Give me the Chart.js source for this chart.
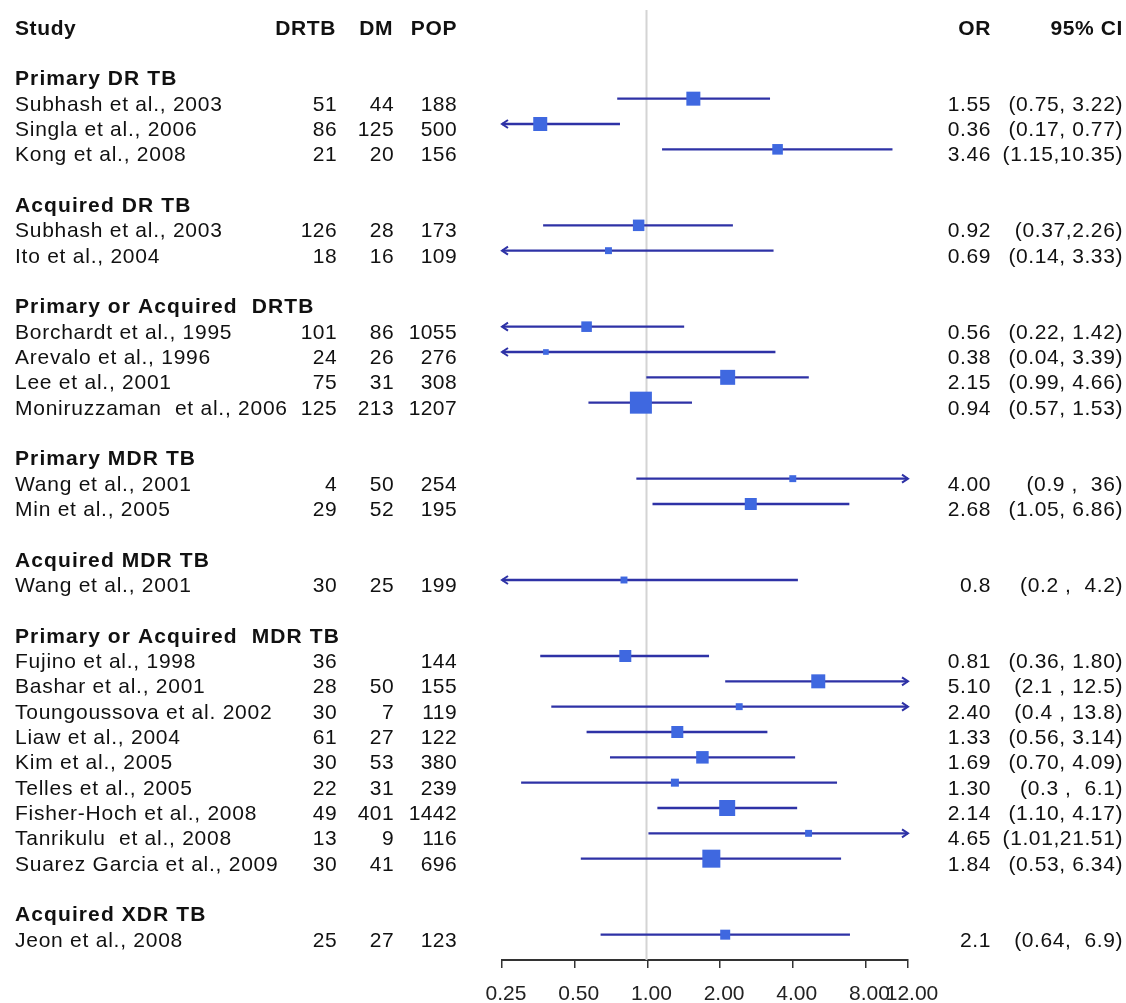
<!DOCTYPE html>
<html>
<head>
<meta charset="utf-8">
<title>Diabetes and drug-resistant TB – forest plot</title>
<script src="https://cdn.jsdelivr.net/npm/chart.js@4.4.1/dist/chart.umd.min.js"></script>
<style>
  html, body { margin: 0; padding: 0; background: #ffffff; }
  #wrap { width: 1126px; height: 1003px; position: relative; }
</style>
</head>
<body>
<div id="wrap"><canvas id="forest"></canvas></div>
<script>
// ---- data ----
const columnHeads = ['Study', 'DRTB', 'DM', 'POP', 'OR', '95% CI'];

const groups = [
  'Primary DR TB',
  'Acquired DR TB',
  'Primary or Acquired  DRTB',
  'Primary MDR TB',
  'Acquired MDR TB',
  'Primary or Acquired  MDR TB',
  'Acquired XDR TB'
];

const groupOf = [0, 0, 0, 1, 1, 2, 2, 2, 2, 3, 3, 4, 5, 5, 5, 5, 5, 5, 5, 5, 5, 6];

const studies = [
  'Subhash et al., 2003', 'Singla et al., 2006', 'Kong et al., 2008',
  'Subhash et al., 2003', 'Ito et al., 2004',
  'Borchardt et al., 1995', 'Arevalo et al., 1996', 'Lee et al., 2001', 'Moniruzzaman  et al., 2006',
  'Wang et al., 2001', 'Min et al., 2005',
  'Wang et al., 2001',
  'Fujino et al., 1998', 'Bashar et al., 2001', 'Toungoussova et al. 2002', 'Liaw et al., 2004',
  'Kim et al., 2005', 'Telles et al., 2005', 'Fisher-Hoch et al., 2008', 'Tanrikulu  et al., 2008',
  'Suarez Garcia et al., 2009',
  'Jeon et al., 2008'
];

const drtb = [51, 86, 21, 126, 18, 101, 24, 75, 125, 4, 29, 30, 36, 28, 30, 61, 30, 22, 49, 13, 30, 25];
const dm   = [44, 125, 20, 28, 16, 86, 26, 31, 213, 50, 52, 25, null, 50, 7, 27, 53, 31, 401, 9, 41, 27];
const pop  = [188, 500, 156, 173, 109, 1055, 276, 308, 1207, 254, 195, 199, 144, 155, 119, 122, 380, 239, 1442, 116, 696, 123];

const orValue = [1.55, 0.36, 3.46, 0.92, 0.69, 0.56, 0.38, 2.15, 0.94, 4.00, 2.68, 0.8, 0.81, 5.10, 2.40, 1.33, 1.69, 1.30, 2.14, 4.65, 1.84, 2.1];
const ciLow   = [0.75, 0.17, 1.15, 0.37, 0.14, 0.22, 0.04, 0.99, 0.57, 0.9, 1.05, 0.2, 0.36, 2.1, 0.4, 0.56, 0.70, 0.3, 1.10, 1.01, 0.53, 0.64];
const ciHigh  = [3.22, 0.77, 10.35, 2.26, 3.33, 1.42, 3.39, 4.66, 1.53, 36, 6.86, 4.2, 1.80, 12.5, 13.8, 3.14, 4.09, 6.1, 4.17, 21.51, 6.34, 6.9];

const orText = ['1.55', '0.36', '3.46', '0.92', '0.69', '0.56', '0.38', '2.15', '0.94', '4.00', '2.68', '0.8',
                '0.81', '5.10', '2.40', '1.33', '1.69', '1.30', '2.14', '4.65', '1.84', '2.1'];
const ciText = ['(0.75, 3.22)', '(0.17, 0.77)', '(1.15,10.35)', '(0.37,2.26)', '(0.14, 3.33)',
                '(0.22, 1.42)', '(0.04, 3.39)', '(0.99, 4.66)', '(0.57, 1.53)',
                '(0.9 ,  36)', '(1.05, 6.86)', '(0.2 ,  4.2)',
                '(0.36, 1.80)', '(2.1 , 12.5)', '(0.4 , 13.8)', '(0.56, 3.14)', '(0.70, 4.09)',
                '(0.3 ,  6.1)', '(1.10, 4.17)', '(1.01,21.51)', '(0.53, 6.34)', '(0.64,  6.9)'];

// relative study weights (box area)
const weights = [49, 49, 28, 33, 12, 28, 8, 56, 121, 12, 36, 12, 36, 49, 12, 36, 39, 16, 64, 12, 81, 25];

const axisTicks = [0.25, 0.5, 1, 2, 4, 8, 12];

// ---- row layout: header, then blank + heading + studies for each group ----
const headingRows = [];
const studyRows = [];
(function () {
  let row = 0;
  let prev = -1;
  groupOf.forEach((g) => {
    if (g !== prev) {
      row += 2;            // blank line, then group heading
      headingRows.push(row);
      prev = g;
    }
    row += 1;
    studyRows.push(row);
  });
})();
const lastRow = studyRows[studyRows.length - 1];

const FONT = '"Liberation Sans", Arial, sans-serif';
const BOX_COLOR = '#3f68e0';
const LINE_COLOR = '#2e32a6';

const forestPlugin = {
  id: 'forestLayer',
  beforeDatasetsDraw(chart) {
    const { ctx, chartArea, scales: { x, y } } = chart;
    ctx.save();
    // line of no effect at OR = 1
    const x1 = Math.round(x.getPixelForValue(1)) - 0.5;
    ctx.strokeStyle = '#d4d4d4';
    ctx.lineWidth = 2;
    ctx.beginPath();
    ctx.moveTo(x1, chartArea.top);
    ctx.lineTo(x1, chartArea.bottom);
    ctx.stroke();

    // confidence intervals, with arrows where they leave the axis range
    ctx.strokeStyle = LINE_COLOR;
    ctx.lineCap = 'butt';
    studyRows.forEach((r, i) => {
      const yy = y.getPixelForValue(r);
      const lo = Math.max(ciLow[i], x.min);
      const hi = Math.min(ciHigh[i], x.max);
      const xa = x.getPixelForValue(lo);
      const xb = x.getPixelForValue(hi);
      ctx.lineWidth = 2.4;
      ctx.beginPath();
      ctx.moveTo(xa, yy);
      ctx.lineTo(xb, yy);
      ctx.stroke();
      ctx.lineWidth = 2;
      if (ciLow[i] < x.min) {
        ctx.beginPath();
        ctx.moveTo(xa + 6, yy - 4);
        ctx.lineTo(xa, yy);
        ctx.lineTo(xa + 6, yy + 4);
        ctx.stroke();
      }
      if (ciHigh[i] > x.max) {
        ctx.beginPath();
        ctx.moveTo(xb - 6, yy - 4);
        ctx.lineTo(xb, yy);
        ctx.lineTo(xb - 6, yy + 4);
        ctx.stroke();
      }
    });
    ctx.restore();
  },
  afterDraw(chart) {
    const { ctx, scales: { y } } = chart;
    const textY = (r) => y.getPixelForValue(r) + 12;
    ctx.save();
    ctx.fillStyle = '#111';
    ctx.textBaseline = 'alphabetic';

    const put = (txt, xPos, row, align, bold, spacing) => {
      if (txt === null || txt === undefined || txt === '') return;
      ctx.font = (bold ? 'bold ' : '') + '21px ' + FONT;
      ctx.letterSpacing = spacing + 'px';
      ctx.textAlign = align;
      ctx.fillText(String(txt), xPos, textY(row));
    };

    // column headings
    put(columnHeads[0], 15, 0, 'left', true, 0.6);
    put(columnHeads[1], 336, 0, 'right', true, 0.6);
    put(columnHeads[2], 393, 0, 'right', true, 0.6);
    put(columnHeads[3], 457, 0, 'right', true, 0.6);
    put(columnHeads[4], 991, 0, 'right', true, 0.6);
    put(columnHeads[5], 1123, 0, 'right', true, 0.6);

    groups.forEach((g, k) => put(g, 15, headingRows[k], 'left', true, 1.1));

    studyRows.forEach((r, i) => {
      put(studies[i], 15, r, 'left', false, 0.75);
      put(drtb[i], 337, r, 'right', false, 0.4);
      put(dm[i], 394, r, 'right', false, 0.4);
      put(pop[i], 457, r, 'right', false, 0.4);
      put(orText[i], 991, r, 'right', false, 0.6);
      put(ciText[i], 1123, r, 'right', false, 0.6);
    });
    ctx.restore();
  }
};

new Chart(document.getElementById('forest'), {
  type: 'scatter',
  data: {
    datasets: [{
      label: 'OR',
      data: studyRows.map((r, i) => ({ x: orValue[i], y: r })),
      pointStyle: 'rect',
      pointRadius: weights.map((w) => Math.sqrt(w) * Math.SQRT2),
      pointHoverRadius: weights.map((w) => Math.sqrt(w) * Math.SQRT2),
      backgroundColor: BOX_COLOR,
      borderWidth: 0
    }]
  },
  options: {
    responsive: true,
    maintainAspectRatio: false,
    animation: false,
    devicePixelRatio: 1,
    layout: { autoPadding: false, padding: { left: 502, right: 218, top: 10, bottom: 0 } },
    plugins: { legend: { display: false }, tooltip: { enabled: false } },
    scales: {
      x: {
        type: 'logarithmic',
        position: 'bottom',
        min: 0.25,
        max: 12,
        afterBuildTicks: (s) => { s.ticks = axisTicks.map((v) => ({ value: v })); },
        afterFit: (s) => { s.height = 43; s.paddingLeft = 0; s.paddingRight = 0; },
        ticks: {
          autoSkip: false,
          maxRotation: 0,
          padding: 14,
          labelOffset: 4,
          color: '#222',
          font: { family: FONT, size: 21 },
          callback: (v) => Number(v).toFixed(2)
        },
        grid: { drawOnChartArea: false, drawTicks: true, tickLength: 8, color: '#333', lineWidth: 1.5 },
        border: { display: true, color: '#333', width: 2 }
      },
      y: {
        type: 'linear',
        reverse: true,
        min: -0.5,
        max: lastRow + 1,
        display: false
      }
    }
  },
  plugins: [forestPlugin]
});
</script>
</body>
</html>
